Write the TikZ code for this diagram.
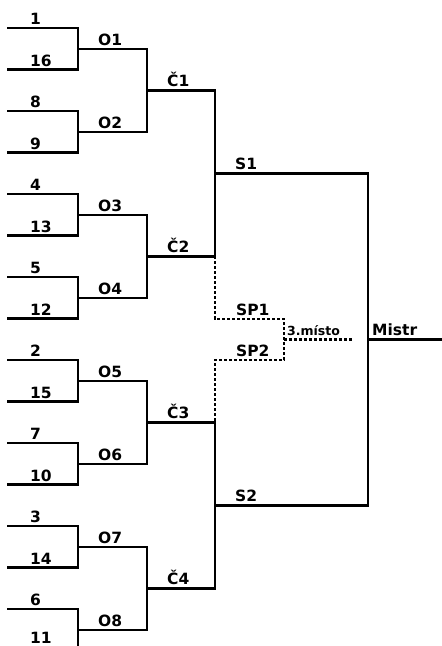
\documentclass[tikz,border=0pt]{standalone}
\usepackage{fontspec}
\setmainfont{DejaVu Sans}
\begin{document}
\begin{tikzpicture}[x=1pt,y=-1pt,
  ln/.style={line width=2.5pt, line cap=rect},
  dl/.style={line width=2.6pt, dash pattern=on 3pt off 2pt},
  lab/.style={anchor=base west, inner sep=0pt, font=\fontsize{15.5}{17}\selectfont\bfseries},
  smalllab/.style={anchor=base west, inner sep=0pt, font=\fontsize{12.5}{14}\selectfont\bfseries}]
\clip (0,0) rectangle (442,646);
% first round: seeds
\foreach \s [count=\i from 0] in {1,16,8,9,4,13,5,12,2,15,7,10,3,14,6,11} {
  \coordinate (a\i) at (8, 28+41.5*\i);
  \coordinate (b\i) at (78, 28+41.5*\i);
  \draw[ln] (a\i) -- (b\i);
  \pgfmathsetmacro{\yl}{min(24.5+41.5*\i,643.5)}
  \node[lab] (n\i) at (30, \yl) {\s};
}
% O round
\foreach \k in {0,...,7} {
  \pgfmathtruncatemacro{\p}{2*\k}
  \pgfmathtruncatemacro{\q}{2*\k+1}
  \pgfmathtruncatemacro{\m}{\k+1}
  \coordinate (o\k) at (78, 48.75+83*\k);
  \coordinate (oe\k) at (147, 48.75+83*\k);
  \draw[ln] (b\p) -- (b\q);
  \draw[ln] (o\k) -- (oe\k);
  \node[lab] (ol\k) at (98, 45.25+83*\k) {O\m};
}
% Č round
\foreach \j in {0,...,3} {
  \pgfmathtruncatemacro{\p}{2*\j}
  \pgfmathtruncatemacro{\q}{2*\j+1}
  \pgfmathtruncatemacro{\m}{\j+1}
  \coordinate (c\j) at (147, 90.25+166*\j);
  \coordinate (ce\j) at (215, 90.25+166*\j);
  \draw[ln] (oe\p) -- (oe\q);
  \draw[ln] (c\j) -- (ce\j);
  \node[lab] (cl\j) at (167, 86.75+166*\j) {Č\m};
}
% semifinals
\coordinate (s1) at (215,173.25);
\coordinate (s1e) at (368,173.25);
\coordinate (s2) at (215,505.25);
\coordinate (s2e) at (368,505.25);
\draw[ln] (ce0) -- (ce1);
\draw[ln] (ce2) -- (ce3);
\draw[ln] (s1) -- (s1e);
\draw[ln] (s2) -- (s2e);
\node[lab] (s1l) at (235,169.75) {S1};
\node[lab] (s2l) at (235,501.75) {S2};
% final
\coordinate (f) at (368,339.25);
\coordinate (fe) at (446,339.25);
\draw[ln] (s1e) -- (s2e);
\draw[ln] (f) -- (fe);
\node[lab] (ml) at (372,335.75) {Mistr};
% third place
\coordinate (p1) at (215,319);
\coordinate (p1e) at (284,319);
\coordinate (p2) at (215,360);
\coordinate (p2e) at (284,360);
\coordinate (t) at (284,339.25);
\coordinate (te) at (353,339.25);
\draw[dl] (ce1) -- (p1) -- (p1e) -- (p2e) -- (p2) -- (ce2);
\draw[dl] (t) -- (te);
\node[lab] (sp1l) at (236,315.5) {SP1};
\node[lab] (sp2l) at (236,356.5) {SP2};
\node[smalllab] (tl) at (287,335.5) {3.místo};
\end{tikzpicture}
\end{document}
